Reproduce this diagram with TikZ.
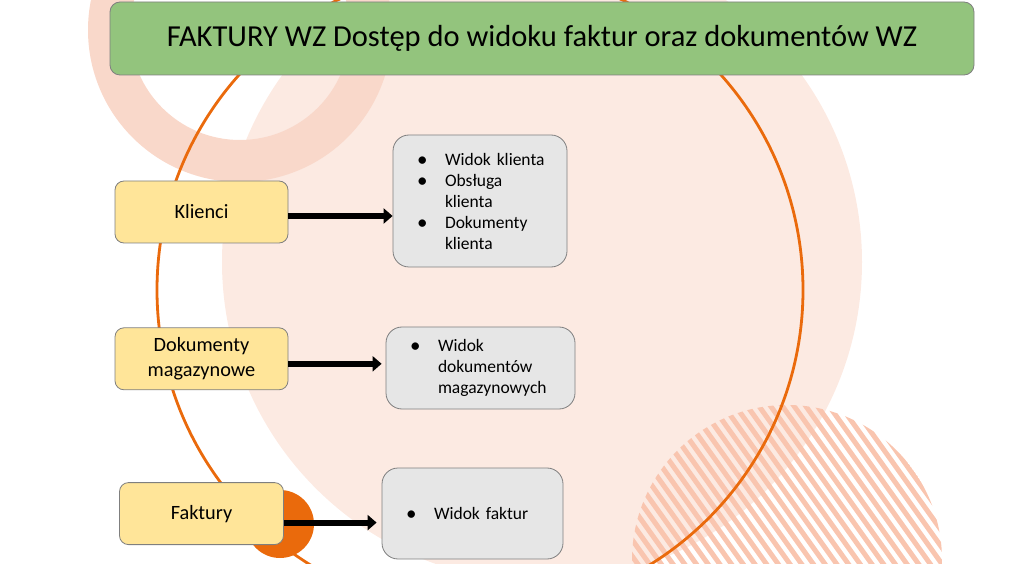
\documentclass[tikz,border=0pt]{standalone}
\usepackage{fontspec}
\setmainfont{Carlito}
\usetikzlibrary{positioning}
\usetikzlibrary{arrows.meta}
\definecolor{peach}{HTML}{FCEAE2}
\definecolor{ringc}{HTML}{F9D8CA}
\definecolor{orng}{HTML}{EA6A0C}
\definecolor{stripe}{HTML}{F9C5AF}
\definecolor{titlegreen}{HTML}{93C47D}
\definecolor{boxyellow}{HTML}{FFE599}
\definecolor{boxgray}{HTML}{E6E6E6}
\definecolor{edge}{HTML}{7F7F7F}
\tikzset{tb/.style={draw=edge,fill=titlegreen,rounded corners=10pt,line width=0.8pt,
minimum width=864pt,minimum height=73pt,font=\fontsize{30.5}{36}\selectfont}}
\tikzset{kb/.style={draw=edge,fill=boxyellow,rounded corners=9pt,line width=0.8pt,
minimum height=62pt,align=center,font=\fontsize{20.3}{25}\selectfont}}
\tikzset{wb/.style={draw=edge,fill=boxgray,rounded corners=16pt,line width=0.8pt,
inner xsep=0pt,align=left,font=\fontsize{17.5}{21}\selectfont}}
\tikzset{ma/.style={line width=6pt,-{Triangle[length=9pt,width=15pt]}}}
\newcommand{\bul}{\hspace*{24pt}\makebox[28pt][l]{\raisebox{-1pt}{\fontsize{21}{21}\selectfont\textbullet}}}
\newcommand{\cont}{\hspace*{52pt}}

\begin{document}
\begin{tikzpicture}[x=1pt,y=-1pt]
\useasboundingbox (0,0) rectangle (1021,564);
\fill[peach] (542,262) circle[radius=320pt];
\fill[ringc,even odd rule] (240,30) circle[radius=152pt] (240,30) circle[radius=110pt];
\begin{scope}
\clip (787,560) circle[radius=155pt];
\foreach \k in {-22,...,22}
  \draw[stripe,line width=5pt] (587+\k*11.7,280) -- ++(400,560);
\end{scope}
\draw[orng,line width=2.8pt] (480,290) circle[radius=323pt];
\fill[orng] (280,524) circle[radius=34pt];

\node [tb] (title) at (542,38.5) {FAKTURY WZ Dostęp do widoku faktur oraz dokumentów WZ};

\node [kb, minimum width=173pt] (kl) at (201.5,212) {Klienci};
\node [kb, minimum width=173pt, below=84pt of kl] (dm) {Dokumenty\\magazynowe};
\node [kb, minimum width=164pt, below=92pt of dm] (fk) {Faktury};

\node [wb, text width=174pt, minimum height=132pt] (wk) at (480,201)
{\bul Widok klienta\\\bul Obsługa\\\cont klienta\\\bul Dokumenty\\\cont klienta};
\node [wb, text width=189pt, minimum height=82pt] (wd) at (480.5,368)
{\bul Widok\\\cont dokumentów\\\cont magazynowych};
\node [wb, text width=181pt, minimum height=91pt] (wf) at (472.5,513.5)
{\bul Widok faktur};

\draw [ma] ([yshift=-4pt]kl.east) -- ([yshift=-4pt]kl.east -| wk.west);
\draw [ma, shorten >=4pt] ([yshift=-5pt]dm.east) -- ([yshift=-5pt]dm.east -| wd.west);
\draw [ma, shorten >=5pt] ([yshift=-9pt]fk.east) -- ([yshift=-9pt]fk.east -| wf.west);
\end{tikzpicture}
\end{document}
